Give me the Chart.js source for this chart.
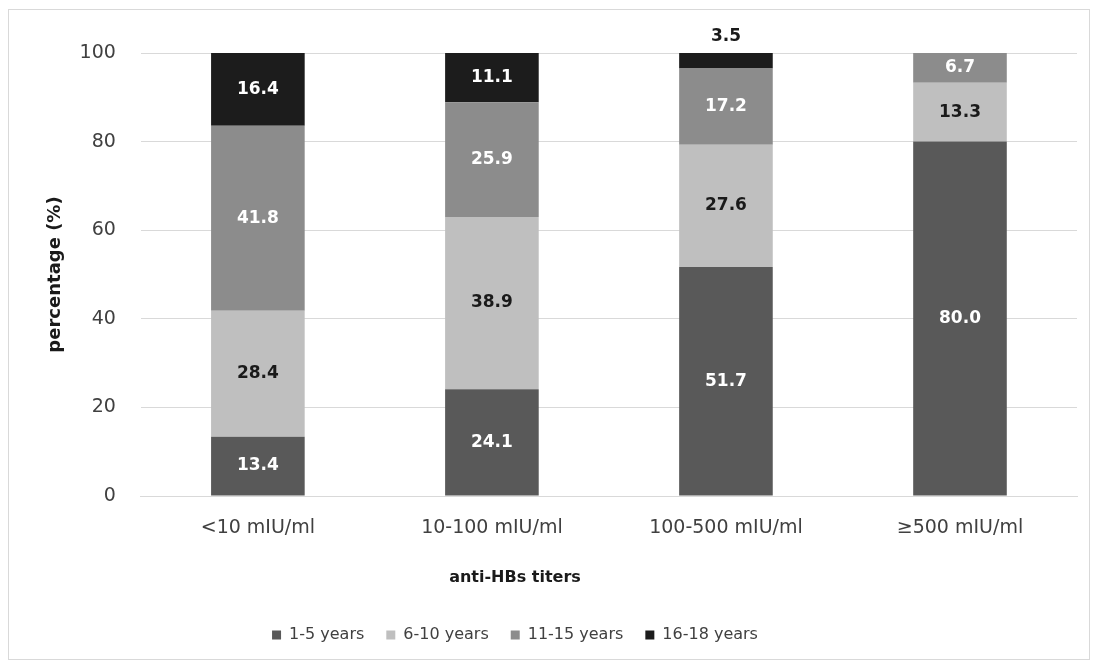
<!DOCTYPE html>
<html lang="en">
<head>
  <meta charset="UTF-8" />
  <title>anti-HBs titers</title>
  <script src="https://cdn.jsdelivr.net/npm/chart.js@4.4.0/dist/chart.umd.min.js"></script>
  <style>
    body { margin: 0; background: #fff; }
    #box {
      position: absolute; left: 8px; top: 9px; width: 1080px; height: 649px;
      border: 1px solid #d9d9d9; background: #fff;
    }
  </style>
</head>
<body>
  <div id="box"><canvas id="chart"></canvas></div>
  <script>
    const categories = ["<10 mIU/ml", "10-100 mIU/ml", "100-500 mIU/ml", "\u2265500 mIU/ml"];
    const years1to5 = [13.4, 24.1, 51.7, 80.0];
    const years6to10 = [28.4, 38.9, 27.6, 13.3];
    const years11to15 = [41.8, 25.9, 17.2, 6.7];
    const years16to18 = [16.4, 11.1, 3.5, null];
    const yTicks = [0, 20, 40, 60, 80, 100];

    const FONT = "'DejaVu Sans', Verdana, sans-serif";

    // value inside each segment, above the bar when the segment is too thin
    const segLabels = {
      id: "segLabels",
      afterLayout(chart) {
        // the legend in the original sits a bit left of centre
        chart.legend.left -= 90;
      },
      afterDatasetsDraw(chart) {
        const ctx = chart.ctx;
        ctx.save();
        ctx.font = "bold 17px " + FONT;
        ctx.textAlign = "center";
        ctx.textBaseline = "middle";
        chart.data.datasets.forEach((ds, i) => {
          const meta = chart.getDatasetMeta(i);
          meta.data.forEach((bar, j) => {
            const v = ds.data[j];
            if (v == null) return;
            const top = Math.min(bar.y, bar.base);
            const h = Math.abs(bar.base - bar.y);
            if (h < 22) {
              ctx.fillStyle = "#1a1a1a";
              ctx.fillText(v.toFixed(1), bar.x, top - 16);
            } else {
              ctx.fillStyle = ds.labelColor;
              ctx.fillText(v.toFixed(1), bar.x, top + h / 2);
            }
          });
        });
        ctx.restore();
      }
    };

    new Chart(document.getElementById("chart"), {
      type: "bar",
      data: {
        labels: categories,
        datasets: [
          { label: "1-5 years", data: years1to5, backgroundColor: "#595959", labelColor: "#ffffff" },
          { label: "6-10 years", data: years6to10, backgroundColor: "#bfbfbf", labelColor: "#1a1a1a" },
          { label: "11-15 years", data: years11to15, backgroundColor: "#8c8c8c", labelColor: "#ffffff" },
          { label: "16-18 years", data: years16to18, backgroundColor: "#1c1c1c", labelColor: "#ffffff" }
        ]
      },
      options: {
        responsive: true,
        maintainAspectRatio: false,
        animation: false,
        datasets: { bar: { categoryPercentage: 1, barPercentage: 0.4 } },
        layout: { padding: { left: 34, right: 12, top: 43, bottom: 6 } },
        plugins: {
          legend: {
            position: "bottom",
            title: {
              display: true, text: "anti-HBs titers", color: "#1a1a1a",
              font: { family: FONT, size: 16, weight: "bold" },
              padding: { top: 17, bottom: 16 }
            },
            labels: {
              boxWidth: 9, boxHeight: 9, padding: 22, color: "#404040",
              font: { family: FONT, size: 16 }
            }
          },
          tooltip: { enabled: false }
        },
        scales: {
          x: {
            stacked: true,
            grid: { display: false },
            border: { color: "#d9d9d9" },
            ticks: { color: "#404040", font: { family: FONT, size: 19 }, padding: 13 }
          },
          y: {
            stacked: true,
            min: 0, max: 100,
            afterBuildTicks(axis) { axis.ticks = yTicks.map(v => ({ value: v })); },
            grid: { color: "#d9d9d9", drawTicks: false },
            border: { display: false },
            ticks: { color: "#404040", font: { family: FONT, size: 19 }, padding: 25 },
            title: {
              display: true, text: "percentage (%)", color: "#1a1a1a",
              font: { family: FONT, size: 18, weight: "bold" }, padding: { top: 2, bottom: -12 }
            }
          }
        }
      },
      plugins: [segLabels]
    });
  </script>
</body>
</html>
